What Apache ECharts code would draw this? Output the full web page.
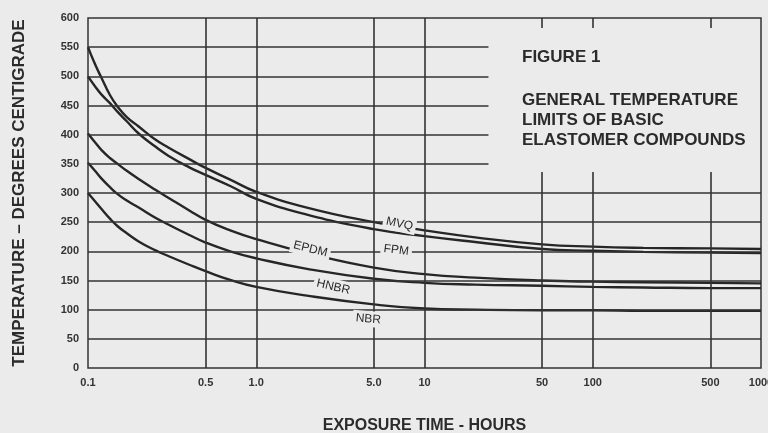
<!DOCTYPE html>
<html>
<head>
<meta charset="utf-8">
<script src="https://cdn.jsdelivr.net/npm/echarts@6/dist/echarts.min.js"></script>
<style>
  html, body { margin: 0; padding: 0; background: #ebebeb; }
  #chart { width: 768px; height: 433px; }
</style>
</head>
<body>
<div id="chart"></div>
<script>
// exposure time (hours) shared by all curves
var hours = [0.1, 0.11, 0.12, 0.135, 0.15, 0.17, 0.2, 0.25, 0.3, 0.4, 0.5, 0.7, 1, 2, 5, 10, 20, 50, 100, 200, 500, 1000];
// temperature limits, degrees C
var mvq  = [550, 521, 498, 468, 448, 430, 414, 392, 378, 358, 343, 323, 302, 275, 250, 236, 224, 212, 208, 206, 205, 204];
var fpm  = [500, 483, 469, 454, 439, 423, 402, 380, 364, 344, 331, 312, 290, 263, 238, 226, 216, 204, 201, 199, 198, 197];
var epdm = [402, 387, 374, 360, 350, 338, 324, 306, 292, 270, 254, 236, 221, 197, 172, 161, 155, 150, 148, 147, 146, 145];
var hnbr = [352, 338, 325, 310, 298, 287, 275, 258, 246, 228, 215, 200, 188, 170, 153, 146, 143, 141, 139, 138, 137, 137];
var nbr  = [300, 286, 273, 256, 243, 231, 217, 202, 192, 177, 166, 151, 139, 124, 109, 102, 100, 99, 99, 98, 98, 98];

var curveNames = ['MVQ', 'FPM', 'EPDM', 'HNBR', 'NBR'];
// where each name is printed on the chart [hours, degrees]
var labelAt = [[7.1, 247], [6.8, 202], [2.1, 204], [2.87, 139], [4.64, 84]];

var xTickValues = [0.1, 0.5, 1, 5, 10, 50, 100, 500, 1000];
var xTickLabels = ['0.1', '0.5', '1.0', '5.0', '10', '50', '100', '500', '1000'];

var bg = '#ebebeb';
var ink = '#2b2b2b';

// grid lines (upper right corner is left open for the caption)
var yFull = [50, 100, 150, 200, 250, 300];
var yShort = [350, 400, 450, 500, 550];
var yShortEnd = 24;
var xFull = [0.5, 1, 5, 10];
var xBroken = [50, 100, 500];
var gapFrom = 336, gapTo = 583;

var gridLines = [];
yFull.forEach(function (v) { gridLines.push([{coord: [0.1, v]}, {coord: [1000, v]}]); });
yShort.forEach(function (v) { gridLines.push([{coord: [0.1, v]}, {coord: [yShortEnd, v]}]); });
xFull.forEach(function (h) { gridLines.push([{coord: [h, 0]}, {coord: [h, 600]}]); });
xBroken.forEach(function (h) {
    gridLines.push([{coord: [h, 0]}, {coord: [h, gapFrom]}]);
    gridLines.push([{coord: [h, gapTo]}, {coord: [h, 600]}]);
});

function pairs(vals) {
    return hours.map(function (h, i) { return [h, vals[i]]; });
}

var labelRotate = [-12, -7, -14, -13, -5];

var chart = echarts.init(document.getElementById('chart'));
var option = {
    backgroundColor: bg,
    animation: false,
    title: [{
        text: 'FIGURE 1',
        left: 517, top: 44,
        textStyle: {color: ink, fontSize: 17, fontWeight: 'bold', fontFamily: 'Liberation Sans, Arial'}
    }, {
        text: 'GENERAL TEMPERATURE\nLIMITS OF BASIC\nELASTOMER COMPOUNDS',
        left: 517, top: 85,
        textStyle: {color: ink, fontSize: 17, lineHeight: 20, fontWeight: 'bold', fontFamily: 'Liberation Sans, Arial'}
    }],
    grid: {
        left: 88, right: 7, top: 18, bottom: 65,
        outerBoundsMode: 'none',
        show: true, borderColor: '#333', borderWidth: 1.5, backgroundColor: 'transparent'
    },
    xAxis: {
        type: 'log', logBase: 10, min: 0.1, max: 1000,
        name: 'EXPOSURE TIME - HOURS',
        nameLocation: 'middle', nameGap: 50,
        nameTextStyle: {color: ink, fontSize: 16, fontWeight: 'bold', fontFamily: 'Liberation Sans, Arial'},
        axisLine: {show: false},
        axisTick: {show: false},
        splitLine: {show: false},
        axisLabel: {
            customValues: xTickValues,
            margin: 9,
            color: '#333', fontSize: 11, fontWeight: 'bold', fontFamily: 'Liberation Sans Narrow, Liberation Sans, Arial',
            formatter: function (val) {
                var best = 0;
                xTickValues.forEach(function (t, i) {
                    if (Math.abs(Math.log(t) - Math.log(val)) < Math.abs(Math.log(xTickValues[best]) - Math.log(val))) best = i;
                });
                return xTickLabels[best];
            }
        }
    },
    yAxis: {
        type: 'value', min: 0, max: 600, interval: 50,
        name: 'TEMPERATURE \u2013 DEGREES CENTIGRADE',
        nameLocation: 'middle', nameGap: 60,
        nameTextStyle: {color: ink, fontSize: 17, fontWeight: 'bold', fontFamily: 'Liberation Sans, Arial'},
        axisLine: {show: false},
        axisTick: {show: false},
        splitLine: {show: false},
        axisLabel: {color: '#333', fontSize: 11, fontWeight: 'bold', margin: 9, fontFamily: 'Liberation Sans Narrow, Liberation Sans, Arial'}
    },
    series: [{
        type: 'line', data: [], z: 1, silent: true,
        markLine: {
            silent: true, symbol: ['none', 'none'], animation: false,
            label: {show: false},
            lineStyle: {color: '#333', width: 1.6, type: 'solid'},
            data: gridLines
        }
    }].concat([mvq, fpm, epdm, hnbr, nbr].map(function (vals, i) {
        return {
            name: curveNames[i], type: 'line', z: 3,
            data: pairs(vals),
            smooth: 0.5,
            showSymbol: false, silent: true,
            lineStyle: {color: '#262626', width: 2.4}
        };
    })).concat([{
        type: 'line', data: [], z: 10, silent: true,
        markPoint: {
            symbol: 'circle', symbolSize: 1, silent: true,
            itemStyle: {color: 'rgba(0,0,0,0)'},
            data: curveNames.map(function (n, i) {
                return {
                    name: n, coord: labelAt[i],
                    label: {
                        show: true, position: 'inside', formatter: '{b}', rotate: labelRotate[i],
                        color: ink, fontSize: 12, fontFamily: 'Liberation Sans, Arial',
                        backgroundColor: bg, padding: [2, 3]
                    }
                };
            })
        }
    }])
};
chart.setOption(option);
</script>
</body>
</html>
